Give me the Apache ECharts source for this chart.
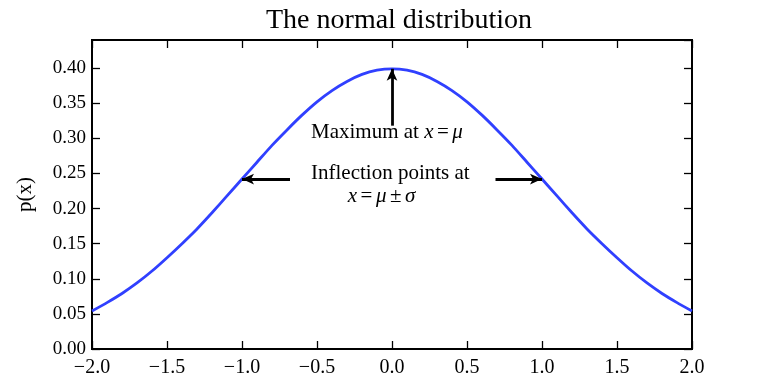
<!DOCTYPE html>
<html><head><meta charset="utf-8">
<script src="https://cdn.jsdelivr.net/npm/echarts@6/dist/echarts.min.js"></script>
<style>html,body{margin:0;padding:0;background:#fff}#c{width:760px;height:392px}</style>
</head><body><div id="c"></div>
<script>
// x positions and read-off density values p(x)
const xs = [-2.0,-1.9,-1.8,-1.7,-1.6,-1.5,-1.4,-1.3,-1.2,-1.1,-1.0,-0.9,-0.8,-0.7,-0.6,-0.5,-0.4,-0.3,-0.2,-0.1,0.0,
             0.1,0.2,0.3,0.4,0.5,0.6,0.7,0.8,0.9,1.0,1.1,1.2,1.3,1.4,1.5,1.6,1.7,1.8,1.9,2.0];
const px = [0.054,0.066,0.079,0.094,0.111,0.130,0.150,0.171,0.194,0.218,0.242,0.266,0.290,0.312,0.333,0.352,0.368,0.381,0.391,0.397,0.399,
            0.397,0.391,0.381,0.368,0.352,0.333,0.312,0.290,0.266,0.242,0.218,0.194,0.171,0.150,0.130,0.111,0.094,0.079,0.066,0.054];
const xTicks = [-2.0,-1.5,-1.0,-0.5,0.0,0.5,1.0,1.5,2.0];
const yTicks = [0.00,0.05,0.10,0.15,0.20,0.25,0.30,0.35,0.40];
// annotations: [from x, from y, to x, to y]
const arrowMax = [0, 0.318, 0, 0.399];
const arrowLeft = [-0.68, 0.242, -1.0, 0.242];
const arrowRight = [0.69, 0.242, 1.0, 0.242];
// text anchor (left, vertical middle of first line) in data units
const textMaxPos = [-0.54, 0.308];
const textInflPos = [-0.54, 0.250];

const FONT = 'Liberation Serif';
const chart = echarts.init(document.getElementById('c'), null, {renderer:'canvas'});
const fmtX = v => (v < 0 ? '\u2212' : '') + Math.abs(v).toFixed(1);
const fmtY = v => v.toFixed(2);
const tick = {show:true, inside:true, length:8, lineStyle:{color:'#000', width:1.3}};
const base = {fontFamily:FONT, fontSize:21, fill:'#000', lineHeight:23};
const rich = {
  n:Object.assign({}, base),
  i:Object.assign({}, base, {fontStyle:'italic'}),
  s:Object.assign({}, base, {fontSize:14})
};
chart.setOption({
  animation:false,
  title:{text:'The normal distribution', left:394, top:2, textAlign:'center',
    textStyle:{fontFamily:FONT, fontSize:28, fontWeight:'normal', color:'#000'}},
  grid:{left:92, right:68, top:40, bottom:43, show:true, borderColor:'#000', borderWidth:2, backgroundColor:'transparent'},
  xAxis:[{
    type:'value', min:xTicks[0], max:xTicks[xTicks.length-1], interval:0.5, position:'bottom',
    axisLine:{show:true, onZero:false, lineStyle:{color:'#000', width:2}},
    axisTick:tick, splitLine:{show:false},
    axisLabel:{formatter:fmtX, fontFamily:FONT, fontSize:20, color:'#000', margin:9}
  },{
    type:'value', min:xTicks[0], max:xTicks[xTicks.length-1], interval:0.5, position:'top',
    axisLine:{show:true, onZero:false, lineStyle:{color:'#000', width:2}},
    axisTick:tick, splitLine:{show:false}, axisLabel:{show:false}
  }],
  yAxis:[{
    type:'value', min:yTicks[0], max:0.44, interval:0.05, position:'left',
    name:'p(x)', nameLocation:'middle', nameGap:56, nameRotate:90,
    nameTextStyle:{fontFamily:FONT, fontSize:21, color:'#000'},
    axisLine:{show:true, onZero:false, lineStyle:{color:'#000', width:2}},
    axisTick:tick, splitLine:{show:false},
    axisLabel:{formatter:fmtY, fontFamily:FONT, fontSize:19, color:'#000', margin:6, showMaxLabel:false}
  },{
    type:'value', min:yTicks[0], max:0.44, interval:0.05, position:'right',
    axisLine:{show:true, onZero:false, lineStyle:{color:'#000', width:2}},
    axisTick:tick, splitLine:{show:false}, axisLabel:{show:false}
  }],
  series:[{
    type:'line', xAxisIndex:0, yAxisIndex:0,
    data: xs.map((x,i)=>[x, px[i]]),
    showSymbol:false, smooth:0.2,
    lineStyle:{color:'#3040ff', width:2.8},
    markLine:{
      silent:true, symbol:['none','arrow'], symbolSize:[8,12],
      label:{show:false},
      lineStyle:{color:'#000', width:2.8, type:'solid'},
      data:[arrowMax, arrowLeft, arrowRight].map(a=>[{coord:[a[0],a[1]]},{coord:[a[2],a[3]]}])
    }
  }]
});
const pMax = chart.convertToPixel({gridIndex:0}, textMaxPos);
const pInf = chart.convertToPixel({gridIndex:0}, textInflPos);
chart.setOption({
  graphic:[
    {type:'text', x:pMax[0], y:pMax[1], silent:true, z:100,
     style:{text:'{n|Maximum at }{i|x}{s| }{n|=}{s| }{i|\u03bc}', rich:rich, fill:'#000',
       align:'left', verticalAlign:'middle'}},
    {type:'text', x:pInf[0], y:pInf[1] - 11.5, silent:true, z:100,
     style:{text:'{n|Inflection points at}\n{n|       }{i|x}{s| }{n|=}{s| }{i|\u03bc}{s| }{n|\u00b1}{s| }{i|\u03c3}',
       rich:rich, fill:'#000', align:'left', verticalAlign:'top'}}
  ]
});
</script></body></html>
